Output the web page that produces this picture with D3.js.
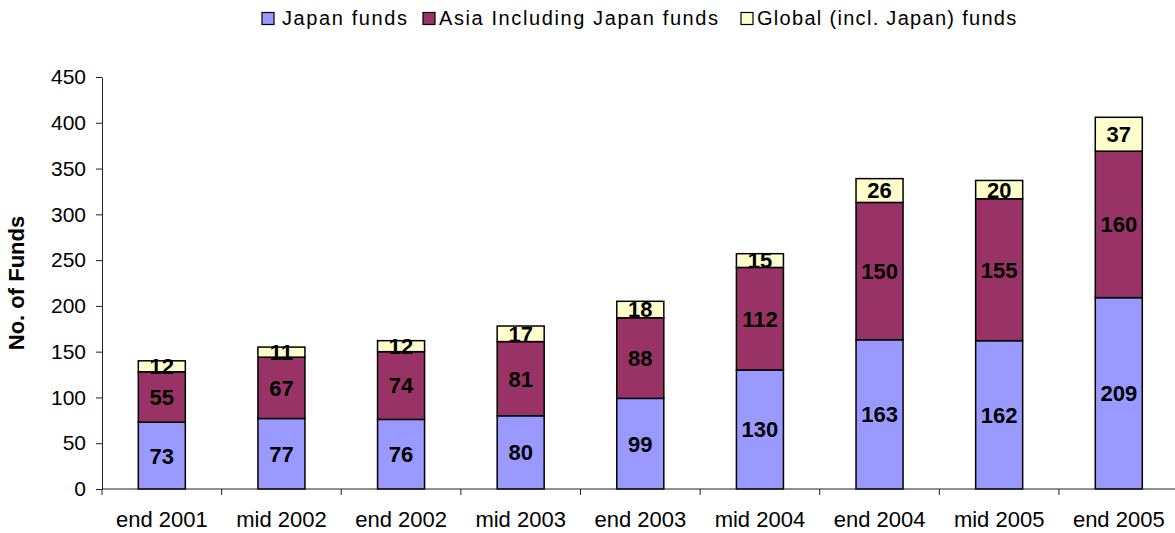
<!DOCTYPE html>
<html>
<head>
<meta charset="utf-8">
<script src="https://cdn.jsdelivr.net/npm/d3@7"></script>
<style>
  html, body { margin: 0; padding: 0; background: #fff; }
  svg { display: block; font-family: Arial, "Liberation Sans", sans-serif; }
</style>
</head>
<body>
<svg id="chart" width="1175" height="533"></svg>
<script>
const categories = ["end 2001","mid 2002","end 2002","mid 2003","end 2003","mid 2004","end 2004","mid 2005","end 2005"];
const japanFunds  = [73, 77, 76, 80, 99, 130, 163, 162, 209];
const asiaFunds   = [55, 67, 74, 81, 88, 112, 150, 155, 160];
const globalFunds = [12, 11, 12, 17, 18, 15, 26, 20, 37];
const seriesNames = ["Japan funds", "Asia Including Japan funds", "Global (incl. Japan) funds"];
const yTicks = [0, 50, 100, 150, 200, 250, 300, 350, 400, 450];
const yTitle = "No. of Funds";

(function () {
const colors = ["#9999FF", "#993366", "#FFFFCC"];
const seriesValues = [japanFunds, asiaFunds, globalFunds];

const svg = d3.select("#chart");
const mLeft = 102, mRight = 1178.6, mTop = 77, mBottom = 489;

const x = d3.scaleBand().domain(categories).range([mLeft, mRight])
  .paddingInner(0.607).paddingOuter(0.3035);
const y = d3.scaleLinear().domain([0, 450]).range([mBottom, mTop]);

const rows = categories.map((c, i) => {
  const r = { cat: c };
  seriesNames.forEach((s, k) => r[s] = seriesValues[k][i]);
  return r;
});
const stack = d3.stack().keys(seriesNames)(rows);

// bars
const layers = svg.append("g").selectAll("g").data(stack).join("g")
  .attr("fill", (d, k) => colors[k]);
layers.selectAll("rect").data(d => d).join("rect")
  .attr("x", d => x(d.data.cat))
  .attr("width", x.bandwidth())
  .attr("y", d => y(d[1]))
  .attr("height", d => y(d[0]) - y(d[1]))
  .attr("stroke", "#000")
  .attr("stroke-width", 1.5);

// value labels
const lab = svg.append("g");
stack.forEach((layer) => {
  lab.selectAll(null).data(layer).join("text")
    .attr("x", d => x(d.data.cat) + x.bandwidth() / 2)
    .attr("y", d => (y(d[0]) + y(d[1])) / 2)
    .attr("dy", "0.36em")
    .attr("text-anchor", "middle")
    .attr("font-weight", "bold")
    .attr("font-size", 22)
    .attr("fill", "#000")
    .text(d => d[1] - d[0]);
});

// y axis
const yAxis = svg.append("g").attr("transform", `translate(${mLeft},0)`)
  .call(d3.axisLeft(y).tickValues(yTicks).tickSize(6).tickPadding(10).tickSizeOuter(0));
yAxis.select(".domain").attr("stroke", "#222");
yAxis.selectAll(".tick line").attr("stroke", "#222");
yAxis.selectAll("text").attr("font-size", 21).attr("fill", "#000")
  .attr("font-family", "Arial, 'Liberation Sans', sans-serif");

// x axis
svg.append("line").attr("x1", mLeft).attr("x2", 1175).attr("y1", mBottom).attr("y2", mBottom)
  .attr("stroke", "#222").attr("stroke-width", 1);
const step = x.step();
const bounds = categories.map(c => x(c) - (step - x.bandwidth()) / 2).concat([mRight]);
svg.append("g").selectAll("line").data(bounds).join("line")
  .attr("x1", d => d).attr("x2", d => d)
  .attr("y1", mBottom).attr("y2", mBottom + 6)
  .attr("stroke", "#222");
svg.append("g").selectAll("text").data(categories).join("text")
  .attr("x", d => x(d) + x.bandwidth() / 2)
  .attr("y", 527)
  .attr("text-anchor", "middle")
  .attr("font-size", 22)
  .attr("fill", "#000")
  .text(d => d);

// y title
svg.append("text")
  .attr("transform", `translate(24,${(mTop + mBottom) / 2}) rotate(-90)`)
  .attr("text-anchor", "middle")
  .attr("font-weight", "bold")
  .attr("font-size", 22)
  .attr("fill", "#000")
  .text(yTitle);

// legend
const legendX = [262, 423, 741];
const legendSpacing = [1.6, 1.6, 1.3];
const lg = svg.append("g");
seriesNames.forEach((s, k) => {
  lg.append("rect").attr("x", legendX[k]).attr("y", 12.5).attr("width", 12).attr("height", 12)
    .attr("fill", colors[k]).attr("stroke", "#000").attr("stroke-width", 1.2);
  lg.append("text").attr("x", legendX[k] + (k === 0 ? 20 : 16)).attr("y", 25)
    .attr("font-size", 20).attr("letter-spacing", legendSpacing[k]).attr("fill", "#000")
    .text(s);
});
})();
</script>
</body>
</html>
